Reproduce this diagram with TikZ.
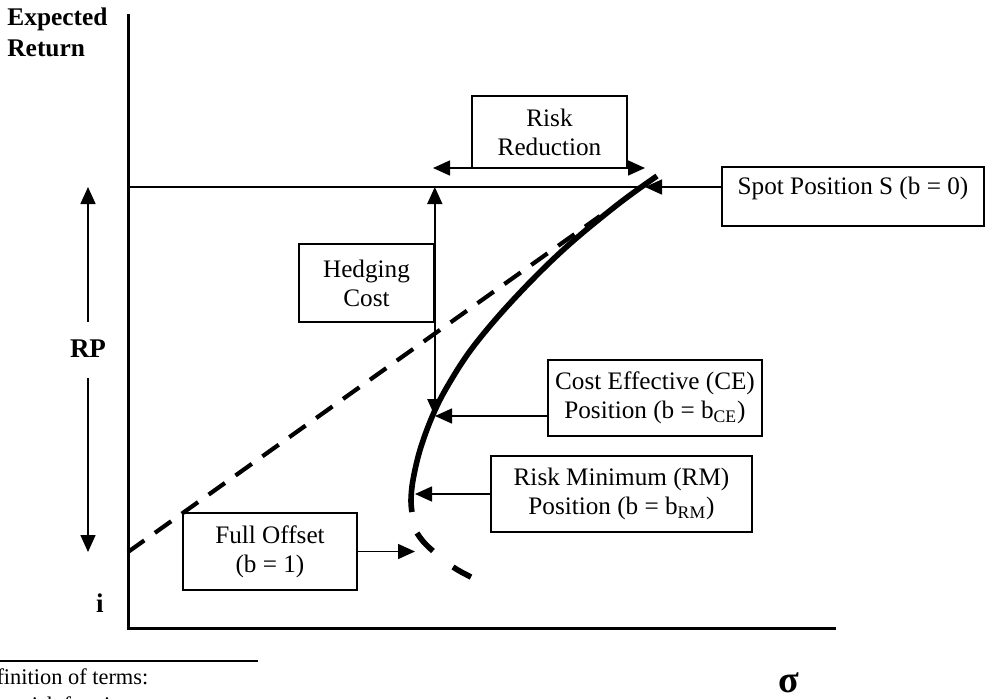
\documentclass[tikz,border=0pt]{standalone}
\usepackage{fontspec}
\setmainfont{Liberation Serif}
\usetikzlibrary{arrows.meta}
\begin{document}
\begin{tikzpicture}[x=0.5pt,y=-0.5pt,
  lbl/.style={font=\fontsize{12.6}{14.5}\selectfont, align=center},
  box/.style={draw, line width=0.8pt, inner sep=0pt, lbl},
  arr/.style={line width=0.8pt, -{Triangle[length=8.5pt,width=7.5pt]}},
  dbl/.style={line width=0.8pt, {Triangle[length=8.5pt,width=7.5pt]}-{Triangle[length=8.5pt,width=7.5pt]}},
  thinl/.style={line width=0.8pt},
  axisl/.style={line width=1.5pt},
  curvel/.style={line width=2.8pt},
  dashl/.style={line width=2.1pt, dash pattern=on 10pt off 6.5pt},
  boldlbl/.style={font=\fontsize{12.7}{15.5}\selectfont\bfseries, inner sep=0pt},
  foot/.style={font=\fontsize{11.2}{13}\selectfont, inner sep=0pt}]
\useasboundingbox (0,0) rectangle (986,698);
\clip (0,0) rectangle (986,698);

% key coordinates
\coordinate (top) at (128,14);
\coordinate (o) at (128,628);
\coordinate (xend) at (836,628);
\coordinate (spotP) at (645,187);
\coordinate (ceP) at (435,416);
\coordinate (rmP) at (415,494);
\coordinate (foP) at (415,552);
\coordinate (iP) at (128,552);
\coordinate (dashEnd) at (600,216);
\coordinate (rrL) at (433,168);
\coordinate (rrR) at (645,168);

% axes
\draw[axisl, line join=miter] (top) -- (o) -- (xend);

% labels
\node[boldlbl, anchor=north west, align=left] (er) at (7,7) {Expected\\Return};
\node[boldlbl, font=\fontsize{13.5}{15}\selectfont\bfseries] (rp) at (88,349) {RP};
\node[boldlbl, font=\fontsize{13.5}{15}\selectfont\bfseries] (ilbl) at (100,603) {i};
\node[font=\fontsize{19}{20}\selectfont\bfseries, inner sep=0pt] (sig) at (789,683) {σ};

% horizontal line at spot return
\draw[thinl] (spotP -| o) -- (spotP);

% dashed line
\draw[dashl] (iP) -- (dashEnd);

% curve
\draw[curvel] plot[smooth, tension=0.6] coordinates {(657,176) (617,205) (563,250) (513,300) (473,347) (447,387) (432,417) (420,450) (413,480) (411,500) (412,512)};
\draw[curvel] (417,533) .. controls (422,541) and (427,546) .. (433,551);
\draw[curvel] (453,567) .. controls (459,571) and (465,574) .. (471,577);

% boxes
\node[box, minimum width=77.5pt, minimum height=36pt] (rr) at (549.5,132) {Risk\\Reduction};
\node[box, minimum width=131pt, minimum height=29.5pt, text height=8.8pt, text depth=10.4pt] (spot) at (853,196.5) {Spot Position S (b = 0)};
\node[box, minimum width=67.5pt, minimum height=39pt] (hc) at (366.5,283) {Hedging\\Cost};
\node[box, minimum width=107pt, minimum height=38pt] (ce) at (655,398) {Cost Effective (CE)\\Position (b = b\textsubscript{CE})};
\node[box, minimum width=130.5pt, minimum height=38pt] (rm) at (621.5,494) {Risk Minimum (RM)\\Position (b = b\textsubscript{RM})};
\node[box, minimum width=87pt, minimum height=38.5pt] (fo) at (270,551.5) {Full Offset\\(b = 1)};

% connectors
\draw[arr] (spot.west |- spotP) -- (spotP);
\draw[dbl] (rrL) -- (rrR);
\draw[dbl] (hc.east |- spotP) -- (hc.east |- ceP);
\draw[arr] (ce.west |- ceP) -- (ceP);
\draw[arr] (rm.west |- rmP) -- (rmP);
\draw[arr] (fo.east) -- (fo.east -| foP);
\draw[arr] ([yshift=9pt]rp.north) -- (rp |- spotP);
\draw[arr] ([yshift=-10pt]rp.south) -- (rp |- iP);

% footnote
\draw[line width=1.2pt] (0,661) -- (258,661);
\node[foot, anchor=base west] (def) at (-30,684) {Definition of terms:};
\node[foot, anchor=base west] (deft) at (-6,712) {i = risk free interest rate};
\end{tikzpicture}
\end{document}
